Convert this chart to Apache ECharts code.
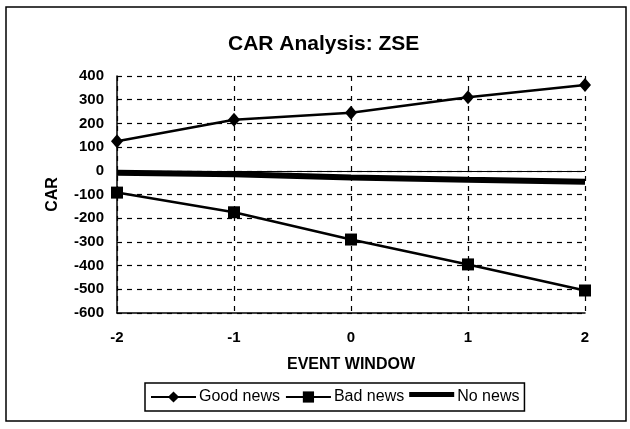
<!DOCTYPE html>
<html><head><meta charset="utf-8">
<script src="https://cdn.jsdelivr.net/npm/echarts@6/dist/echarts.min.js"></script>
<style>html,body{margin:0;padding:0;background:#fff}#c{width:630px;height:429px}</style>
</head><body><div id="c"></div>
<script>
const eventWindow = [-2, -1, 0, 1, 2];
const goodNews = [125, 215, 245, 310, 362];
const badNews = [-92, -175, -290, -395, -505];
const noNews = [-8, -15, -28, -38, -46];
const yTicks = [-600, 400, 100];

const F = '"Liberation Sans", Arial, sans-serif';
const pair = (xs, ys) => xs.map((x, i) => [x, ys[i]]);
const chart = echarts.init(document.getElementById('c'));
chart.setOption({
  animation: false,
  backgroundColor: '#fff',
  graphic: [{type: 'rect', shape: {x: 6, y: 7, width: 620, height: 414}, style: {fill: 'none', stroke: '#000', lineWidth: 1.5}}],
  title: {text: 'CAR Analysis: ZSE', left: 223, top: 29, textStyle: {fontFamily: F, fontSize: 21, fontWeight: 'bold', color: '#000'}},
  grid: {left: 117, right: 45, top: 76, bottom: 116},
  xAxis: {
    type: 'value', min: eventWindow[0], max: eventWindow[eventWindow.length - 1], interval: 1,
    name: 'EVENT WINDOW', nameLocation: 'middle', nameGap: 44,
    nameTextStyle: {fontFamily: F, fontSize: 16, fontWeight: 'bold', color: '#000'},
    axisLine: {onZero: false, lineStyle: {color: '#000', width: 1.5}},
    axisTick: {show: false},
    axisLabel: {fontFamily: F, fontSize: 15, fontWeight: 'bold', color: '#000', margin: 17},
    splitLine: {show: true, lineStyle: {color: '#000', type: [5, 5], width: 1.2}}
  },
  yAxis: {
    type: 'value', min: yTicks[0], max: yTicks[1], interval: yTicks[2],
    name: 'CAR', nameLocation: 'middle', nameGap: 56, nameRotate: 90,
    nameTextStyle: {fontFamily: F, fontSize: 16, fontWeight: 'bold', color: '#000'},
    axisLine: {show: true, onZero: false, lineStyle: {color: '#000', width: 1.5}},
    axisTick: {show: false},
    axisLabel: {fontFamily: F, fontSize: 15, fontWeight: 'bold', color: '#000', margin: 13},
    splitLine: {show: true, lineStyle: {color: '#000', type: [5, 5], width: 1.2}}
  },
  legend: {
    top: 383, left: 145, itemGap: 5, itemWidth: 45, itemHeight: 14,
    borderColor: '#000', borderWidth: 1.5, padding: [6, 5, 6, 5], borderRadius: 0,
    textStyle: {fontFamily: F, fontSize: 16, color: '#000', padding: [0, 0, 0, -2]},
    data: [
      {name: 'Good news'},
      {name: 'Bad news'},
      {name: 'No news', icon: 'path://M0,0L45,0Z M0,2H45V7H0Z M0,14L45,14Z', itemStyle: {color: '#000', borderWidth: 0}}
    ]
  },
  series: [
    {name: 'Good news', type: 'line', data: pair(eventWindow, goodNews), symbol: 'diamond', symbolSize: [12, 14],
     lineStyle: {color: '#000', width: 2.5}, itemStyle: {color: '#000'},
     markLine: {silent: true, symbol: 'none', label: {show: false}, lineStyle: {color: '#000', type: 'solid', width: 1.2}, data: [{yAxis: 0}]}},
    {name: 'Bad news', type: 'line', data: pair(eventWindow, badNews), symbol: 'rect', symbolSize: 12,
     lineStyle: {color: '#000', width: 2.5}, itemStyle: {color: '#000'}},
    {name: 'No news', type: 'line', data: pair(eventWindow, noNews), symbol: 'none',
     lineStyle: {color: '#000', width: 6}, itemStyle: {color: '#000'}}
  ]
});
</script></body></html>
